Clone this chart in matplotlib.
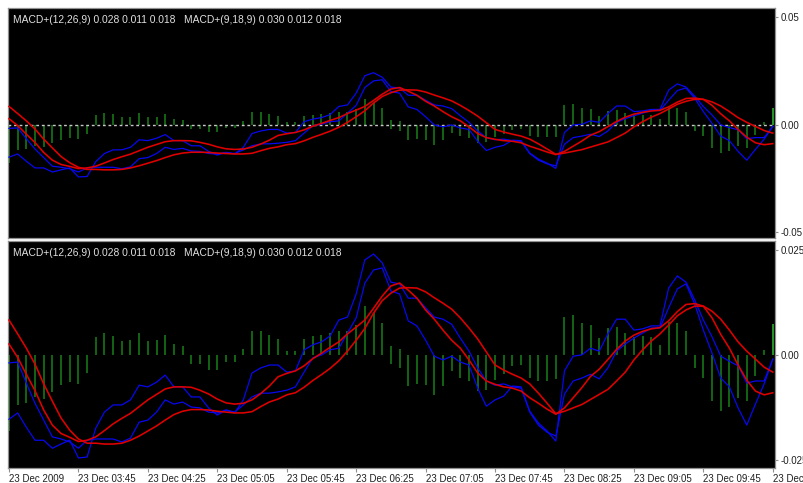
import numpy as np
import pandas as pd
import matplotlib
matplotlib.use("Agg")
import matplotlib.pyplot as plt

plt.rcParams['font.family'] = ['Liberation Sans', 'DejaVu Sans']

# 5 minute bars, 23 Dec 2009 03:05 .. 10:25
bar_times = pd.date_range("2009-12-23 03:05", periods=89, freq="5min")

# indicator values, in units of 0.001
macd_a = [-15.2, -13.7, -17.1, -20.2, -20.2, -22.1, -21.1, -20.2, -24.4, -24.2,
          -17.3, -13.5, -11.8, -11.8, -10.6, -7.1, -7.5, -6.4, -4.7, -7.5,
          -7.5, -9.9, -9.9, -12.5, -14.2, -13.0, -13.7, -10.6, -4.2, -3.0,
          -2.3, -2.3, -4.0, -3.7, 1.3, 2.5, 3.2, 4.6, 8.4, 9.1,
          14.6, 22.7, 24.1, 22.0, 17.4, 17.0, 13.6, 13.6, 11.3, 9.1,
          8.6, 7.4, 4.1, 1.0, -3.0, -6.1, -7.1, -6.8, -7.5, -7.8,
          -13.5, -16.6, -18.3, -19.2, -9.2, -6.1, -5.4, -4.5, -5.6, -3.0,
          1.0, 2.7, 4.1, 5.3, 6.5, 6.5, 11.3, 15.8, 17.0, 12.2,
          6.0, 0.5, -5.4, -7.5, -12.5, -16.6, -11.6, -6.8, -0.9]
macd_b = [-1.8, -1.6, -6.6, -11.4, -15.4, -19.4, -19.9, -20.6, -22.1, -20.2,
          -19.9, -19.9, -19.9, -20.6, -19.7, -15.9, -15.4, -13.5, -10.6, -11.6,
          -11.1, -12.3, -12.5, -13.5, -13.7, -13.0, -13.5, -11.8, -9.9, -9.0,
          -9.0, -8.7, -8.3, -7.5, -4.0, -0.6, 0.1, 1.3, 1.7, 5.3,
          8.9, 17.2, 20.3, 20.8, 15.3, 14.6, 8.2, 7.0, 3.6, -0.2,
          -1.1, -0.2, -1.6, -2.3, -7.8, -12.1, -10.6, -9.7, -7.3, -7.5,
          -13.3, -16.1, -18.0, -20.4, -3.7, -0.2, 0.1, 1.7, 1.0, 5.1,
          8.6, 8.6, 6.0, 6.3, 7.0, 7.0, 16.0, 18.9, 17.4, 13.2,
          8.4, 4.4, -0.2, -1.4, -2.5, -6.6, -6.1, -6.1, -0.9]
signal_slow = [8.4, 5.1, 1.7, -2.1, -6.8, -10.9, -14.9, -17.8, -19.9, -20.9,
               -20.9, -21.1, -21.1, -20.9, -20.2, -19.2, -18.0, -16.8, -15.4, -14.1,
               -13.3, -12.9, -12.9, -13.0, -13.3, -13.5, -13.7, -13.7, -13.4, -12.2,
               -11.1, -10.4, -9.4, -8.9, -7.6, -6.0, -4.6, -3.1, -1.3, 1.0,
               3.6, 6.4, 10.0, 13.0, 14.8, 16.0, 16.1, 16.0, 15.1, 13.7,
               12.4, 11.0, 8.9, 6.5, 3.9, 0.8, -2.3, -3.5, -4.5, -5.4,
               -6.8, -9.0, -11.4, -13.9, -13.3, -12.5, -11.7, -10.5, -9.3, -8.1,
               -6.1, -4.0, -1.1, 1.3, 3.4, 5.1, 7.2, 9.4, 10.8, 11.7,
               11.7, 10.5, 8.6, 6.0, 3.2, 1.0, -0.9, -2.8, -4.0]
signal_fast = [2.7, -0.5, -4.5, -8.4, -13.0, -16.6, -18.6, -19.5, -20.5, -20.2,
               -19.4, -17.9, -16.3, -15.0, -13.8, -12.2, -10.6, -9.3, -8.0, -7.5,
               -7.5, -7.6, -8.3, -9.2, -10.4, -11.3, -11.6, -11.4, -10.6, -9.1,
               -7.3, -5.1, -4.3, -3.7, -2.5, -0.8, 0.5, 1.9, 3.2, 5.1,
               6.7, 8.4, 11.2, 14.1, 16.5, 17.2, 15.5, 13.6, 10.8, 8.6,
               6.0, 3.6, 1.7, -1.1, -4.2, -6.1, -6.9, -7.5, -7.8, -8.5,
               -10.1, -11.4, -12.8, -14.0, -12.5, -10.1, -7.7, -5.0, -3.3, -1.0,
               1.4, 3.4, 4.8, 5.7, 6.3, 6.6, 8.2, 10.4, 12.1, 12.3,
               11.7, 8.9, 5.0, 1.7, -2.3, -5.9, -8.5, -9.4, -8.9]
histogram = [-18.0, -11.7, -11.4, -9.9, -10.4, -8.7, -7.0, -6.3, -6.7, -4.3,
             4.3, 5.4, 4.7, 3.3, 3.6, 5.3, 3.3, 3.7, 4.8, 2.6,
             2.2, -2.0, -2.0, -3.6, -3.6, -1.5, -1.7, 1.6, 5.8, 5.8,
             4.8, 3.8, 1.0, 1.1, 4.0, 4.5, 4.8, 5.2, 5.8, 5.8,
             7.3, 11.7, 10.0, 7.8, 2.2, -2.9, -7.4, -6.8, -7.0, -9.5,
             -7.3, -3.8, -5.5, -6.1, -8.6, -8.2, -5.8, -4.5, -2.5, -2.2,
             -5.5, -6.0, -6.0, -5.7, 9.1, 9.6, 7.8, 7.2, 4.1, 6.5,
             6.7, 5.2, 4.4, 4.6, 4.4, 2.5, 8.0, 7.8, 5.8, -2.9,
             -5.3, -10.8, -13.2, -12.3, -10.1, -10.8, -4.9, 1.2, 7.5]
# bars where the two histograms have opposite sign
hist2_idx = [44, 45]
hist2_val = [-2.0, 1.4]

header = "MACD+(12,26,9) 0.028 0.011 0.018   MACD+(9,18,9) 0.030 0.012 0.018"

x = np.arange(len(bar_times))
scale = 0.001
tick_pos = x[::8]
tick_labels = [bar_times[0].strftime("%d %b %Y")] + \
              [t.strftime("%d %b %H:%M") for t in bar_times[8::8]]

fig = plt.figure(figsize=(8.04, 4.83), dpi=100, facecolor='white')
ax_top = fig.add_axes([0.00933, 0.50725, 0.95457, 0.47619])
ax_bot = fig.add_axes([0.00933, 0.03106, 0.95457, 0.46998])


def draw_panel(ax, ylim, yticks, ylabels, zero_line):
    ax.set_facecolor('black')
    h = np.array(histogram) * scale
    colors = ['#187a18'] * (len(h) - 1) + ['#2fb82f']
    ax.vlines(x, 0, h, colors=colors, lw=1.15, zorder=1)
    ax.vlines(hist2_idx, 0, np.array(hist2_val) * scale, colors='#187a18', lw=1.15, zorder=1)
    if zero_line:
        ax.axhline(0, color='#c8c8c8', lw=1.0, ls=(0, (2, 2)), zorder=2)
    for line in (macd_a, macd_b):
        ax.plot(x, np.array(line) * scale, color='#0808f0', lw=0.9, zorder=3)
    for line in (signal_fast, signal_slow):
        ax.plot(x, np.array(line) * scale, color='#e00000', lw=1.15, zorder=4)
    ax.set_xlim(-0.17, 88.25)
    ax.set_ylim(*ylim)
    ax.yaxis.tick_right()
    ax.set_yticks(yticks)
    ax.set_yticklabels(ylabels)
    ax.tick_params(axis='y', length=2.5, width=0.8, color='#909090', pad=1.5,
                   labelsize=7, labelcolor='#202020')
    for s in ax.spines.values():
        s.set_color('#909090')
        s.set_linewidth(0.9)
    ax.text(0.007, 1 - 12 / ax.bbox.height, header, transform=ax.transAxes,
            color='#e0e0e0', fontsize=7.4, va='center', ha='left')


draw_panel(ax_top, (-0.0528, 0.0542), [0.05, 0.0, -0.05],
           ["0.05", "0.00", "-0.05"], True)
draw_panel(ax_bot, (-0.0268, 0.0272), [0.025, 0.0, -0.025],
           ["0.025", "0.00", "-0.025"], False)

ax_top.set_xticks([])
ax_bot.set_xticks(tick_pos)
ax_bot.set_xticklabels(tick_labels)
ax_bot.tick_params(axis='x', length=3, width=0.8, color='#909090', pad=1,
                   labelsize=7, labelcolor='#202020')
plt.setp(ax_bot.get_xticklabels(), ha='left')

fig.savefig("out.png", dpi=100, facecolor='white')
